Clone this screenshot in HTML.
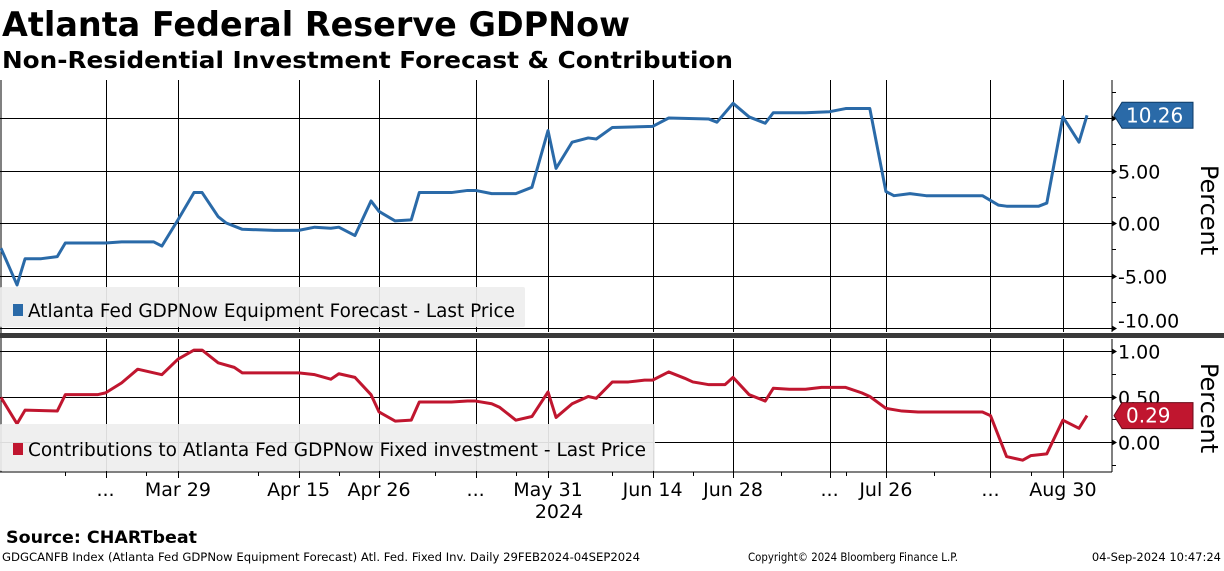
<!DOCTYPE html>
<html><head><meta charset="utf-8"><style>
body{margin:0;width:1224px;height:566px;overflow:hidden;background:#fff;font-family:"Liberation Sans",sans-serif}
</style></head><body>
<svg width="1224" height="566" xmlns="http://www.w3.org/2000/svg" font-family="DejaVu Sans, Liberation Sans, sans-serif">
<text x="2" y="36" font-size="34" font-weight="bold" textLength="628" lengthAdjust="spacingAndGlyphs">Atlanta Federal Reserve GDPNow</text>
<text x="2" y="68" font-size="23" font-weight="bold" textLength="731" lengthAdjust="spacingAndGlyphs">Non-Residential Investment Forecast &amp; Contribution</text>
<g id="grid"></g>
<g id="marks"></g>
<g id="overlay"></g>
<text x="6" y="543" font-size="17" font-weight="bold" textLength="191" lengthAdjust="spacingAndGlyphs">Source: CHARTbeat</text>
<text x="2" y="561" font-size="11.5" textLength="638" lengthAdjust="spacingAndGlyphs">GDGCANFB Index (Atlanta Fed GDPNow Equipment Forecast) Atl. Fed. Fixed Inv.  Daily 29FEB2024-04SEP2024</text>
<text x="748" y="561" font-size="11.5" textLength="210" lengthAdjust="spacingAndGlyphs">Copyright© 2024 Bloomberg Finance L.P.</text>
<text x="1221" y="561" font-size="11.5" text-anchor="end">04-Sep-2024 10:47:24</text>
</svg>
<script>
// business-day index from 29 Feb 2024
const eqIdx=[-1,1,2,4,6,7,12,14,18,19,21,23,24,26,27,29,33,36,38,40,41,43,45,46,48,50,51,55,57,58,60,63,65,67,68,70,72,73,75,80,82,87,88,90,92,94,95,99,102,104,107,109,110,112,114,121,123,124,128,129,131,133,134];
const eqVal=[-2.4,-5.9,-3.4,-3.4,-3.2,-1.9,-1.9,-1.8,-1.8,-2.2,0.3,2.9,2.9,0.6,0.0,-0.6,-0.7,-0.7,-0.4,-0.5,-0.4,-1.2,2.1,1.1,0.2,0.3,2.9,2.9,3.1,3.1,2.8,2.8,3.4,8.8,5.2,7.7,8.1,8.0,9.1,9.2,10.0,9.9,9.6,11.4,10.1,9.5,10.5,10.5,10.6,10.9,10.9,3.0,2.6,2.8,2.6,2.6,1.7,1.6,1.6,1.9,10.1,7.7,10.26];
const fiIdx=[-1,1,2,6,7,11,12,14,16,19,21,23,24,26,28,29,36,38,40,41,43,45,46,48,50,51,55,57,58,60,61,63,65,67,68,70,72,73,75,77,79,80,82,84,85,87,89,90,92,94,95,97,99,101,104,106,107,109,111,113,121,122,124,126,127,129,131,133,134];
const fiVal=[0.49,0.20,0.35,0.34,0.52,0.52,0.54,0.65,0.80,0.74,0.91,1.01,1.01,0.87,0.82,0.76,0.76,0.74,0.69,0.75,0.71,0.52,0.33,0.23,0.24,0.44,0.44,0.45,0.45,0.42,0.38,0.24,0.28,0.55,0.27,0.42,0.50,0.48,0.66,0.66,0.68,0.68,0.77,0.70,0.66,0.63,0.63,0.71,0.52,0.45,0.59,0.58,0.58,0.60,0.60,0.54,0.50,0.37,0.34,0.33,0.33,0.29,-0.16,-0.20,-0.15,-0.13,0.24,0.15,0.29];
const topTicks=[10,5,0,-5,-10];
const topTickLabels=["","5.00","0.00","-5.00","-10.00"];
const botTicks=[1,0.5,0];
const botTickLabels=["1.00","0.50","0.00"];
const majorIdx=[12,21,36,46,58,67,80,90,102,109,122,131];
const majorLabels=["...","Mar 29","Apr 15","Apr 26","...","May 31","Jun 14","Jun 28","...","Jul 26","...","Aug 30"];
const minorIdx=[7,17,31,41,53,63,75,85,96,104,115,127];

const NS="http://www.w3.org/2000/svg";
const xS=i=>9+i*8.045;
const yT=v=>223-v*10.5;
const yB=v=>442-v*91;
function mk(tag,attrs,parent,txt){const e=document.createElementNS(NS,tag);for(const k in attrs)e.setAttribute(k,attrs[k]);if(txt!==undefined)e.textContent=txt;document.getElementById(parent).appendChild(e);return e;}
const R=1112;
let e;
e=mk('line',{x1:1,y1:80,x2:1,y2:472,stroke:'#000','stroke-width':1},'grid');


e=mk('line',{x1:R,y1:80,x2:R,y2:332,stroke:'#000','stroke-width':1},'grid');


e=mk('line',{x1:R,y1:339,x2:R,y2:472,stroke:'#000','stroke-width':1},'grid');


e=mk('line',{x1:0,y1:472,x2:R,y2:472,stroke:'#000','stroke-width':1},'grid');


majorIdx.forEach((d,i)=>{
 const x=Math.round(xS(d))+0.5;
 e=mk('line',{x1:x,y1:80,x2:x,y2:332,stroke:'#000','stroke-width':1},'grid');
 
 
 e=mk('line',{x1:x,y1:339,x2:x,y2:478,stroke:'#000','stroke-width':1},'grid');
 
 
 e=mk('text',{x:xS(d),y:496,'font-size':19,'text-anchor':'middle'},'grid',majorLabels[i]);
 
 
});
minorIdx.forEach(d=>{
 const x=Math.round(xS(d))+0.5;
 e=mk('line',{x1:x,y1:472,x2:x,y2:476,stroke:'#000','stroke-width':1},'grid');
 
 
});
e=mk('text',{x:xS(67)+11,y:518,'font-size':19,'text-anchor':'middle'},'grid','2024');


topTicks.forEach((v,i)=>{
 const y=Math.round(yT(v))+0.5;
 e=mk('line',{x1:0,y1:y,x2:R,y2:y,stroke:'#000','stroke-width':1},'grid');
 
 
 e=mk('path',{d:`M${R} ${y-3}L${R+5} ${y}L${R} ${y+3}Z`,fill:'#000'},'grid');
 
 
 e=mk('line',{x1:R,y1:Math.round(yT(v+2.5))+0.5,x2:R+4,y2:Math.round(yT(v+2.5))+0.5,stroke:'#000'},'grid');
 
 
 const ly=(i===topTicks.length-1)?y-1:y+7;
 e=mk('text',{x:R+6,y:ly,'font-size':19},'grid',topTickLabels[i]);
 
 
});
botTicks.forEach((v,i)=>{
 const y=Math.round(yB(v))+0.5;
 e=mk('line',{x1:0,y1:y,x2:R,y2:y,stroke:'#000','stroke-width':1},'grid');
 
 
 e=mk('path',{d:`M${R} ${y-3}L${R+5} ${y}L${R} ${y+3}Z`,fill:'#000'},'grid');
 
 
 e=mk('line',{x1:R,y1:Math.round(yB(v-0.25))+0.5,x2:R+4,y2:Math.round(yB(v-0.25))+0.5,stroke:'#000'},'grid');
 
 
 e=mk('text',{x:R+6,y:y+7,'font-size':19},'grid',botTickLabels[i]);
 
 
});
e=mk('text',{x:1201,y:210,'font-size':24,'text-anchor':'middle',transform:'rotate(90 1201 210)'},'grid','Percent');


e=mk('text',{x:1201,y:408,'font-size':24,'text-anchor':'middle',transform:'rotate(90 1201 408)'},'grid','Percent');


e=mk('polyline',{points:eqIdx.map((d,i)=>xS(d)+','+yT(eqVal[i])).join(' '),fill:'none',stroke:'#2a6aa8','stroke-width':3,'stroke-linejoin':'round'},'marks');


e=mk('polyline',{points:fiIdx.map((d,i)=>xS(d)+','+yB(fiVal[i])).join(' '),fill:'none',stroke:'#c0162f','stroke-width':3,'stroke-linejoin':'round'},'marks');


e=mk('rect',{x:0,y:333,width:1224,height:5,fill:'#3a3a3a'},'overlay');


e=mk('rect',{x:0,y:287,width:525,height:40,fill:'#eeeeee','fill-opacity':0.92,rx:2},'overlay');


e=mk('rect',{x:13,y:304,width:10,height:12,fill:'#2a6aa8'},'overlay');


e=mk('text',{x:28,y:317,'font-size':19,textLength:487,lengthAdjust:'spacingAndGlyphs'},'overlay','Atlanta Fed GDPNow Equipment Forecast - Last Price');


e=mk('rect',{x:0,y:424,width:655,height:47,fill:'#eeeeee','fill-opacity':0.92,rx:2},'overlay');


e=mk('rect',{x:13,y:443,width:10,height:12,fill:'#c0162f'},'overlay');


e=mk('text',{x:28,y:456,'font-size':19,textLength:618,lengthAdjust:'spacingAndGlyphs'},'overlay','Contributions to Atlanta Fed GDPNow Fixed investment - Last Price');


const lastEq=eqVal[eqVal.length-1], lastFi=fiVal[fiVal.length-1];
let ty=yT(lastEq);
e=mk('path',{d:`M1114 ${ty}L1122 ${ty-13}H1193V${ty+13}H1122Z`,fill:'#2a6aa8',stroke:'#0d3a66'},'overlay');


e=mk('text',{x:1126,y:ty+7,'font-size':20,fill:'#fff'},'overlay',lastEq.toFixed(2));


ty=yB(lastFi);
e=mk('path',{d:`M1114 ${ty}L1122 ${ty-13}H1193V${ty+13}H1122Z`,fill:'#c0162f',stroke:'#6a0a18'},'overlay');


e=mk('text',{x:1126,y:ty+7,'font-size':20,fill:'#fff'},'overlay',lastFi.toFixed(2));


</script>
</body></html>
